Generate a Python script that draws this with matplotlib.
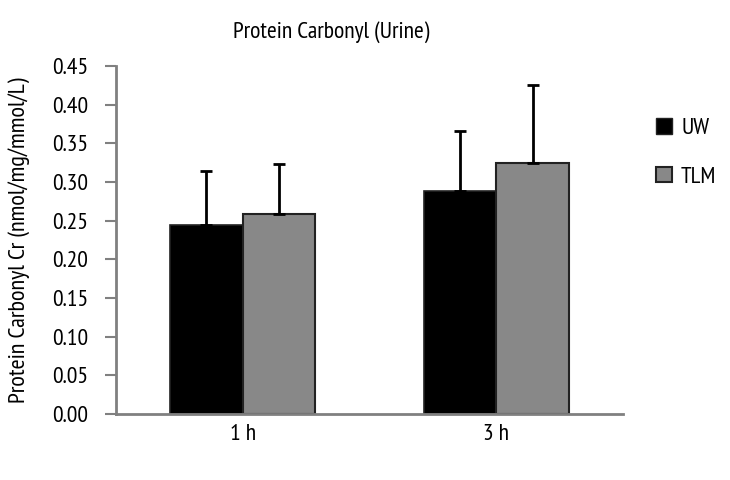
import matplotlib
matplotlib.use("Agg")
import matplotlib.pyplot as plt
import numpy as np
from matplotlib.patches import Patch

categories = ["1 h", "3 h"]
series_names = ["UW", "TLM"]
uw_values = [0.244, 0.288]
tlm_values = [0.259, 0.325]
uw_err = [0.070, 0.078]
tlm_err = [0.064, 0.101]
yticks = [0.00, 0.05, 0.10, 0.15, 0.20, 0.25, 0.30, 0.35, 0.40, 0.45]

plt.rcParams['font.family'] = ['PT Sans Narrow', 'Roboto Condensed', 'DejaVu Sans']
FS = 17

fig = plt.figure(figsize=(7.3, 4.8), dpi=100)
ax = fig.add_axes([116/730, 1-414/480, (623-116)/730, (414-66)/480])

x = np.arange(len(categories))
w = 0.286
edge = '#222222'
ax.bar(x - w/2, uw_values, w, color='black', edgecolor=edge, linewidth=1.2, zorder=2)
ax.bar(x + w/2, tlm_values, w, color='#888888', edgecolor=edge, linewidth=1.5, zorder=2)
ax.errorbar(x - w/2, uw_values, yerr=[np.zeros(2), uw_err], fmt='none', ecolor='black',
            elinewidth=2, capsize=4.5, capthick=2, zorder=3)
ax.errorbar(x + w/2, tlm_values, yerr=[np.zeros(2), tlm_err], fmt='none', ecolor='black',
            elinewidth=2, capsize=4.5, capthick=2, zorder=3)

ax.set_xlim(-0.5, 1.5)
ax.set_ylim(0, 0.45)
ax.set_yticks(yticks)
ax.set_yticklabels([f"{v:.2f}" for v in yticks], fontsize=FS)
ax.set_xticks(x)
ax.set_xticklabels(categories, fontsize=FS)
ax.tick_params(axis='x', length=0, pad=7)
ax.tick_params(axis='y', length=8, width=1.5, color='#808080', pad=12, direction='out')
for s in ['top', 'right']:
    ax.spines[s].set_visible(False)
for s in ['left', 'bottom']:
    ax.spines[s].set_color('#808080')
    ax.spines[s].set_linewidth(2)

ax.set_ylabel("Protein Carbonyl Cr (nmol/mg/mmol/L)", fontsize=17.5, va='center')
ax.yaxis.set_label_coords(-(116-19)/507, 0.5)

fig.text(331/730, 1-32/480, "Protein Carbonyl (Urine)", fontsize=FS, ha='center', va='center')

handles = [Patch(facecolor='black', edgecolor=edge, label=series_names[0]),
           Patch(facecolor='#888888', edgecolor=edge, linewidth=1.5, label=series_names[1])]
fig.legend(handles=handles, loc='upper left', bbox_to_anchor=(635/730, 1-97/480), frameon=False,
           fontsize=FS, handlelength=0.65, handleheight=0.65, handletextpad=0.4, labelspacing=1.15)

fig.savefig("out.png", dpi=100)
